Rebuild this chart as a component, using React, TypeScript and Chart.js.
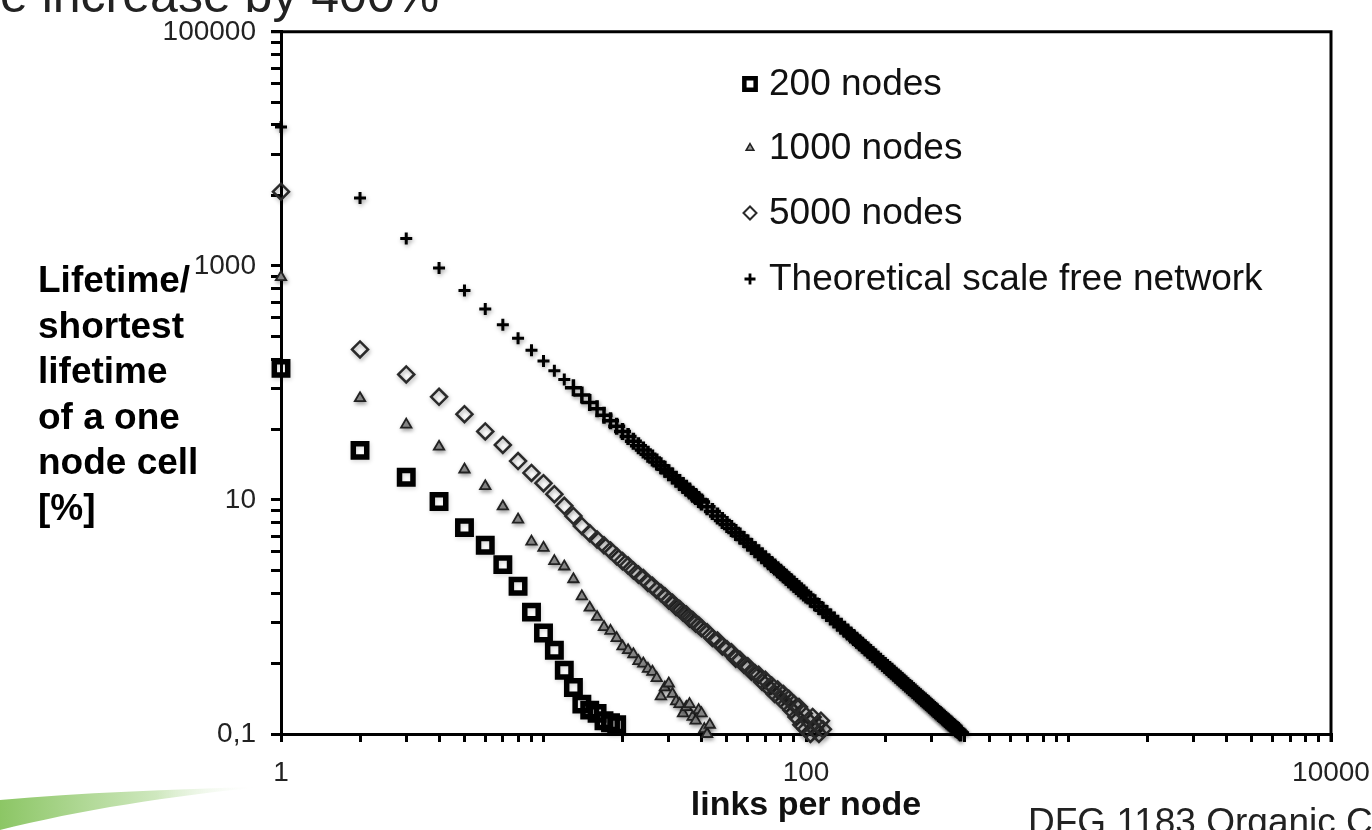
import React, { useEffect, useRef } from 'react';
import { Chart, registerables } from 'chart.js';
import { drawPoint } from 'chart.js/helpers';

Chart.register(...registerables);

// ---- series: links per node (x) and lifetime relative to a one-node cell in % (y)
const links200 = [1, 2, 3, 4, 5, 6, 7, 8, 9, 10, 11, 12, 13, 14, 15, 16, 17, 18, 19];
const lifetime200 = [133, 26.5, 15.6, 9.7, 5.8, 4.1, 2.8, 1.83, 1.1, 0.73, 0.52, 0.35, 0.25, 0.18, 0.16, 0.15, 0.13, 0.125, 0.12];

const links1000 = [
  1, 2, 3, 4, 5, 6, 7, 8, 9, 10, 11, 12, 13, 14, 15, 16, 17, 18, 19, 20, 21, 22,
  23, 24, 25, 26, 27, 28, 29, 30, 31, 32, 33, 34, 35, 36, 37, 38, 39, 40, 41, 42, 43,
];
const lifetime1000 = [
  800, 74, 44, 28.5, 18.2, 13.1, 8.8, 6.8, 4.4, 3.9, 3.0, 2.7, 2.1, 1.5, 1.2, 1.0, 0.82, 0.76,
  0.66, 0.56, 0.52, 0.48, 0.42, 0.4, 0.36, 0.34, 0.3, 0.21, 0.25, 0.27, 0.22, 0.19, 0.18, 0.15,
  0.17, 0.18, 0.14, 0.13, 0.16, 0.15, 0.11, 0.1, 0.12,
];

const links5000 = [
  1, 2, 3, 4, 5, 6, 7, 8, 9, 10, 11, 12, 13, 14, 15, 16, 17, 18, 19, 20, 21, 22, 23, 24, 25,
  26, 27, 28, 29, 30, 31, 32, 33, 34, 35, 36, 37, 38, 39, 40, 42, 44, 46, 48, 50, 52, 54, 56,
  58, 60, 62, 64, 66, 68, 70, 72, 74, 76, 78, 80, 82, 84, 86, 88, 90, 92, 94, 96, 98, 100,
  102, 104, 106, 108, 110, 112, 114, 116,
];
const lifetime5000 = [
  4300, 193, 118, 76, 54, 38.5, 29.5, 21.5, 17, 13.9, 11.2, 8.9, 7.3, 6.0, 5.2, 4.6, 4.1, 3.7,
  3.3, 3.0, 2.75, 2.5, 2.3, 2.15, 1.95, 1.85, 1.7, 1.6, 1.5, 1.38, 1.32, 1.22, 1.17, 1.09, 1.05,
  0.97, 0.94, 0.88, 0.85, 0.8, 0.74, 0.66, 0.63, 0.56, 0.53, 0.5, 0.44, 0.43, 0.39, 0.38, 0.34,
  0.33, 0.32, 0.28, 0.29, 0.25, 0.26, 0.22, 0.24, 0.2, 0.22, 0.18, 0.2, 0.16, 0.18, 0.14, 0.17,
  0.12, 0.15, 0.11, 0.13, 0.1, 0.14, 0.11, 0.12, 0.1, 0.13, 0.11,
];

const linksTheory = [
  1, 2, 3, 4, 5, 6, 7, 8, 9, 10, 11, 12, 13, 14, 15, 16, 17, 18, 19, 20, 21, 22, 23, 24, 25,
  26, 27, 28, 29, 30, 31, 32, 33, 34, 35, 36, 37, 38, 39, 40, 42, 44, 46, 48, 50, 52, 54, 56,
  58, 60, 62, 64, 66, 68, 70, 72, 74, 76, 78, 80, 82, 84, 86, 88, 90, 92, 94, 96, 98, 100,
  104, 108, 112, 116, 120, 124, 128, 132, 136, 140, 144, 148, 152, 156, 160, 164, 168, 172,
  176, 180, 184, 188, 192, 196, 200, 204, 208, 212, 216, 220, 224, 228, 232, 236, 240, 244,
  248, 252, 256, 260, 264, 268, 272, 276, 280, 284, 288, 292, 296, 300, 304, 308, 312, 316,
  320, 324, 328, 332, 336, 340, 344, 348, 352, 356, 360, 364, 368, 372, 376, 380, 384, 388,
];
const lifetimeTheory = [
  15400, 3800, 1710, 960, 615, 428, 314, 241, 190, 154, 127, 107, 91, 79, 68, 60, 53, 47.5,
  42.7, 38.5, 34.9, 31.8, 29.1, 26.7, 24.6, 22.8, 21.1, 19.6, 18.3, 17.1, 16.0, 15.0, 14.1,
  13.3, 12.6, 11.9, 11.2, 10.7, 10.1, 9.6, 8.73, 7.95, 7.28, 6.68, 6.16, 5.7, 5.28, 4.91, 4.58,
  4.28, 4.01, 3.76, 3.54, 3.33, 3.14, 2.97, 2.81, 2.67, 2.53, 2.41, 2.29, 2.18, 2.08, 1.99,
  1.9, 1.82, 1.74, 1.67, 1.6, 1.54, 1.42, 1.32, 1.23, 1.14, 1.07, 1.0, 0.94, 0.884, 0.833,
  0.786, 0.743, 0.703, 0.667, 0.633, 0.602, 0.573, 0.546, 0.521, 0.497, 0.475, 0.455, 0.436,
  0.418, 0.401, 0.385, 0.37, 0.356, 0.343, 0.33, 0.318, 0.307, 0.296, 0.286, 0.277, 0.267,
  0.259, 0.25, 0.243, 0.235, 0.228, 0.221, 0.214, 0.208, 0.202, 0.196, 0.191, 0.186, 0.181,
  0.176, 0.171, 0.167, 0.162, 0.158, 0.154, 0.15, 0.147, 0.143, 0.14, 0.136, 0.133, 0.13,
  0.127, 0.124, 0.122, 0.119, 0.116, 0.114, 0.111, 0.109, 0.107, 0.104, 0.102,
];

// ---- axis ticks
const yLabelledTicks = [0.1, 10, 1000, 100000];
const yTickLabels = ['0,1', '10', '1000', '100000'];
const yMinorSteps = [4, 9, 16, 25, 36, 49, 64, 81];
const xLabelledTicks = [1, 100, 10000];
const xTickLabels = ['1', '100', '10000'];
const xMinorSteps = [2, 3, 4, 5, 6, 7, 8, 9];

const FONT = '"Liberation Sans", Arial, sans-serif';

const toPoints = (xs: number[], ys: number[]) => xs.map((x, i) => ({ x, y: ys[i] }));

const yTickValues: number[] = [];
yLabelledTicks.slice(0, -1).forEach((m) => {
  yTickValues.push(m);
  yMinorSteps.forEach((f) => yTickValues.push(m * f));
});
yTickValues.push(yLabelledTicks[yLabelledTicks.length - 1]);

const xTickValues: number[] = [];
[1, 10, 100, 1000].forEach((d) => {
  xTickValues.push(d);
  xMinorSteps.forEach((k) => xTickValues.push(d * k));
});
xTickValues.push(10000);

const labelFor = (v: number, values: number[], labels: string[]) => {
  const i = values.findIndex((m) => Math.abs(v - m) / m < 1e-6);
  return i >= 0 ? labels[i] : '';
};

// top and right edges of the plot frame
const framePlugin = {
  id: 'frame',
  beforeDatasetsDraw(chart: any) {
    const { ctx, chartArea } = chart;
    const { left, right, top, bottom } = chartArea;
    ctx.save();
    ctx.strokeStyle = '#000';
    ctx.lineWidth = 3;
    ctx.beginPath();
    ctx.moveTo(left - 10, top);
    ctx.lineTo(right, top);
    ctx.lineTo(right, bottom + 8);
    ctx.stroke();
    ctx.restore();
  },
};

// soft grey halo under the markers
const haloPlugin = {
  id: 'halo',
  beforeDatasetDraw(chart: any, args: any) {
    const { ctx } = chart;
    ctx.save();
    ctx.shadowColor = args.index === 0 ? 'rgba(0,0,0,0.15)' : 'rgba(0,0,0,0.35)';
    ctx.shadowBlur = 4;
    ctx.shadowOffsetX = 1;
    ctx.shadowOffsetY = 2;
  },
  afterDatasetDraw(chart: any) {
    chart.ctx.restore();
  },
};

// legend inside the plot, drawn with the datasets' own point styles
const legendPlugin = {
  id: 'insideLegend',
  afterDatasetsDraw(chart: any) {
    const { ctx } = chart;
    const rows = [84, 148, 213, 279];
    const radii = [8, 4.5, 6.5, 5.5];
    const widths = [4.5, 1.5, 2, 2.8];
    ctx.save();
    chart.data.datasets.forEach((ds: any, i: number) => {
      const y = rows[i];
      ctx.strokeStyle = ds.borderColor;
      ctx.fillStyle = ds.backgroundColor;
      ctx.lineWidth = widths[i];
      drawPoint(ctx, { pointStyle: ds.pointStyle, radius: radii[i], rotation: 0, borderWidth: widths[i] }, 750, y);
      ctx.fillStyle = '#111';
      ctx.font = `37px ${FONT}`;
      ctx.textBaseline = 'middle';
      ctx.textAlign = 'left';
      ctx.fillText(ds.label, 769, y + 1);
    });
    ctx.restore();
  },
};

export default function App() {
  const ref = useRef<HTMLCanvasElement>(null);

  useEffect(() => {
    if (!ref.current) return;
    Chart.defaults.font.family = FONT;
    const chart = new Chart(ref.current, {
      type: 'scatter',
      data: {
        datasets: [
          {
            label: '200 nodes',
            data: toPoints(links200, lifetime200),
            pointStyle: 'rect',
            pointRadius: 9.5,
            borderWidth: 5.5,
            borderColor: '#000',
            backgroundColor: 'rgba(255,255,255,0)',
            clip: false,
          },
          {
            label: '1000 nodes',
            data: toPoints(links1000, lifetime1000),
            pointStyle: 'triangle',
            pointRadius: 6,
            borderWidth: 1.8,
            borderColor: '#222',
            backgroundColor: '#9a9a9a',
            clip: false,
          },
          {
            label: '5000 nodes',
            data: toPoints(links5000, lifetime5000),
            pointStyle: 'rectRot',
            pointRadius: 8,
            borderWidth: 2.5,
            borderColor: '#2a2a2a',
            backgroundColor: 'rgba(255,255,255,0)',
            clip: false,
          },
          {
            label: 'Theoretical scale free network',
            data: toPoints(linksTheory, lifetimeTheory),
            pointStyle: 'cross',
            // isolated marks at the start, overlapping marks forming a solid band further on
            pointRadius: (c: any) => (c.raw && c.raw.x > 12 ? 8.5 : 6),
            borderWidth: (c: any) => (c.raw && c.raw.x > 12 ? 3.5 : 3),
            borderColor: '#000',
            backgroundColor: '#000',
            clip: false,
          },
        ],
      },
      options: {
        animation: false,
        responsive: false,
        events: [],
        layout: { padding: { top: 30, right: 41, bottom: 0, left: 0 } },
        plugins: { legend: { display: false }, tooltip: { enabled: false } },
        scales: {
          x: {
            type: 'logarithmic',
            min: 1,
            max: 10000,
            afterBuildTicks: (s: any) => {
              s.ticks = xTickValues.map((value) => ({ value }));
            },
            afterFit: (s: any) => {
              s.height = 96;
              s.paddingLeft = 0;
              s.paddingRight = 0;
            },
            ticks: {
              autoSkip: false,
              maxRotation: 0,
              padding: 14,
              color: '#222',
              font: { size: 28 },
              callback: (v: any) => labelFor(Number(v), xLabelledTicks, xTickLabels),
            },
            grid: { drawOnChartArea: false, tickLength: 8, lineWidth: 3, color: '#000' },
            border: { display: true, width: 3, color: '#000' },
            title: {
              display: true,
              text: 'links per node',
              color: '#111',
              font: { size: 34, weight: 'bold' },
              padding: { top: 0, bottom: 4 },
            },
          },
          y: {
            type: 'logarithmic',
            min: 0.1,
            max: 100000,
            afterBuildTicks: (s: any) => {
              s.ticks = yTickValues.map((value) => ({ value }));
            },
            afterFit: (s: any) => {
              s.width = 281;
            },
            ticks: {
              autoSkip: false,
              padding: 15,
              color: '#222',
              font: { size: 28 },
              callback: (v: any) => labelFor(Number(v), yLabelledTicks, yTickLabels),
            },
            grid: { drawOnChartArea: false, tickLength: 10, lineWidth: 3, color: '#000' },
            border: { display: true, width: 3, color: '#000' },
          },
        },
      },
      plugins: [framePlugin, haloPlugin, legendPlugin],
    } as any);
    return () => chart.destroy();
  }, []);

  return (
    <div
      style={{
        position: 'fixed',
        left: 0,
        top: 0,
        width: 1372,
        height: 830,
        overflow: 'hidden',
        background: '#fff',
        fontFamily: FONT,
      }}
    >
      <canvas ref={ref} width={1372} height={830} style={{ position: 'absolute', left: 0, top: 0, display: 'block' }} />
      <div
        style={{
          position: 'absolute',
          left: 0,
          top: -30,
          fontSize: 50,
          lineHeight: '50px',
          color: '#222',
          whiteSpace: 'nowrap',
        }}
      >
        e increase by 400%
      </div>
      <div
        style={{
          position: 'absolute',
          left: 38,
          top: 257,
          fontSize: 37,
          lineHeight: '45.5px',
          fontWeight: 'bold',
          color: '#000',
          whiteSpace: 'pre',
        }}
      >
        {'Lifetime/\nshortest\nlifetime\nof a one\nnode cell\n[%]'}
      </div>
      <div
        style={{
          position: 'absolute',
          left: 1028,
          top: 803,
          fontSize: 37,
          lineHeight: '37px',
          color: '#222',
          whiteSpace: 'nowrap',
        }}
      >
        DFG 1183 Organic Computing
      </div>
      <svg width={270} height={50} style={{ position: 'absolute', left: 0, top: 780 }}>
        <defs>
          <linearGradient id="swoosh" x1="0" y1="0" x2="1" y2="0">
            <stop offset="0" stopColor="#8cc665" />
            <stop offset="0.6" stopColor="#cfe8bf" />
            <stop offset="1" stopColor="#ffffff" stopOpacity="0" />
          </linearGradient>
        </defs>
        <path d="M0,20 C80,13 170,9 262,7 C170,16 80,30 0,50 Z" fill="url(#swoosh)" />
      </svg>
    </div>
  );
}
